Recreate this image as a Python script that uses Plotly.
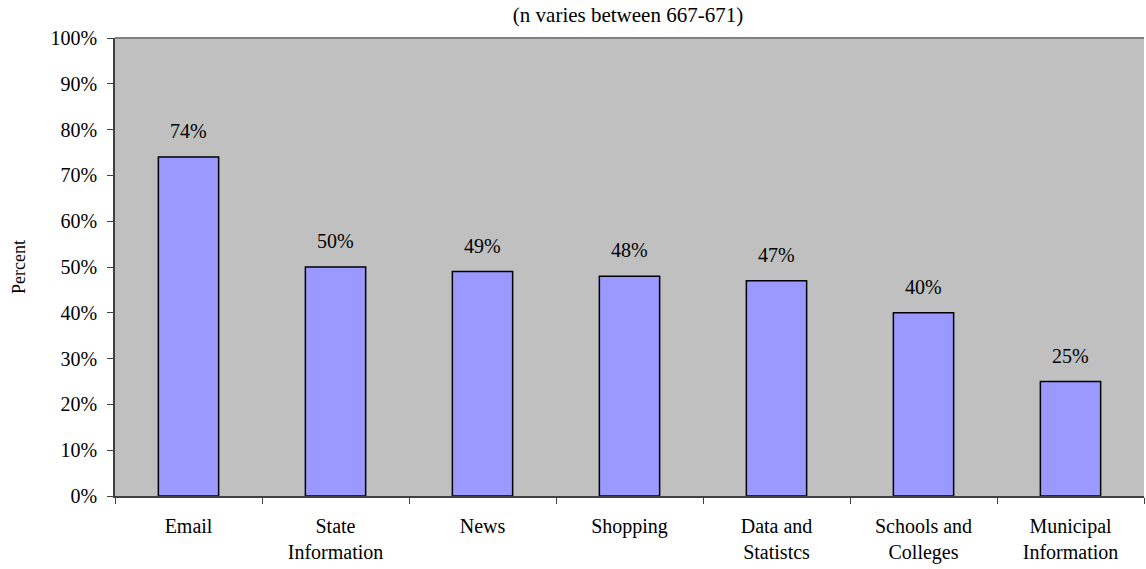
import plotly.graph_objects as go

categories = ["Email", "State<br>Information", "News", "Shopping",
              "Data and<br>Statistcs", "Schools and<br>Colleges", "Municipal<br>Information"]
values = [74, 50, 49, 48, 47, 40, 25]
y_ticks = list(range(0, 101, 10))
y_tick_labels = [f"{v}%" for v in y_ticks]
subtitle = "(n varies between 667-671)"

font_family = "Liberation Serif"

fig = go.Figure()
fig.add_trace(go.Bar(
    x=categories,
    y=values,
    width=0.41,
    marker=dict(color="#9999FF", line=dict(color="#000000", width=1.5)),
    hoverinfo="skip",
))

for cat, val in zip(categories, values):
    fig.add_annotation(x=cat, y=val, text=f"{val}%", showarrow=False,
                       yanchor="bottom", yshift=13,
                       font=dict(family=font_family, size=20, color="#000000"))

fig.update_layout(
    width=1146, height=569,
    margin=dict(l=115, r=2, t=38, b=73),
    paper_bgcolor="#FFFFFF",
    plot_bgcolor="#C0C0C0",
    showlegend=False,
    bargap=0.59,
    font=dict(family=font_family, size=20, color="#000000"),
    title=dict(text=subtitle, x=0.548, xanchor="center", y=0.975, yanchor="middle",
               font=dict(family=font_family, size=21, color="#000000")),
)

fig.update_xaxes(
    type="category",
    showline=True, linecolor="#404040", linewidth=1.5,
    ticks="outside", ticklen=6, tickcolor="#404040", tickwidth=1,
    tickson="boundaries",
    ticklabelstandoff=11,
    showgrid=False,
    tickfont=dict(family=font_family, size=20),
)
fig.update_yaxes(
    range=[0, 100],
    tickvals=y_ticks, ticktext=y_tick_labels,
    showline=True, linecolor="#404040", linewidth=1.5,
    ticks="outside", ticklen=6, tickcolor="#404040", tickwidth=1,
    ticklabelstandoff=6,
    showgrid=False, zeroline=False,
    title=dict(text="Percent", font=dict(family=font_family, size=18), standoff=20),
    tickfont=dict(family=font_family, size=20),
)

# gray border along the top of the plotting area
fig.add_shape(type="line", xref="paper", yref="paper", x0=0, x1=1, y0=1, y1=1,
              line=dict(color="#808080", width=2))

fig.write_html("out.html")
